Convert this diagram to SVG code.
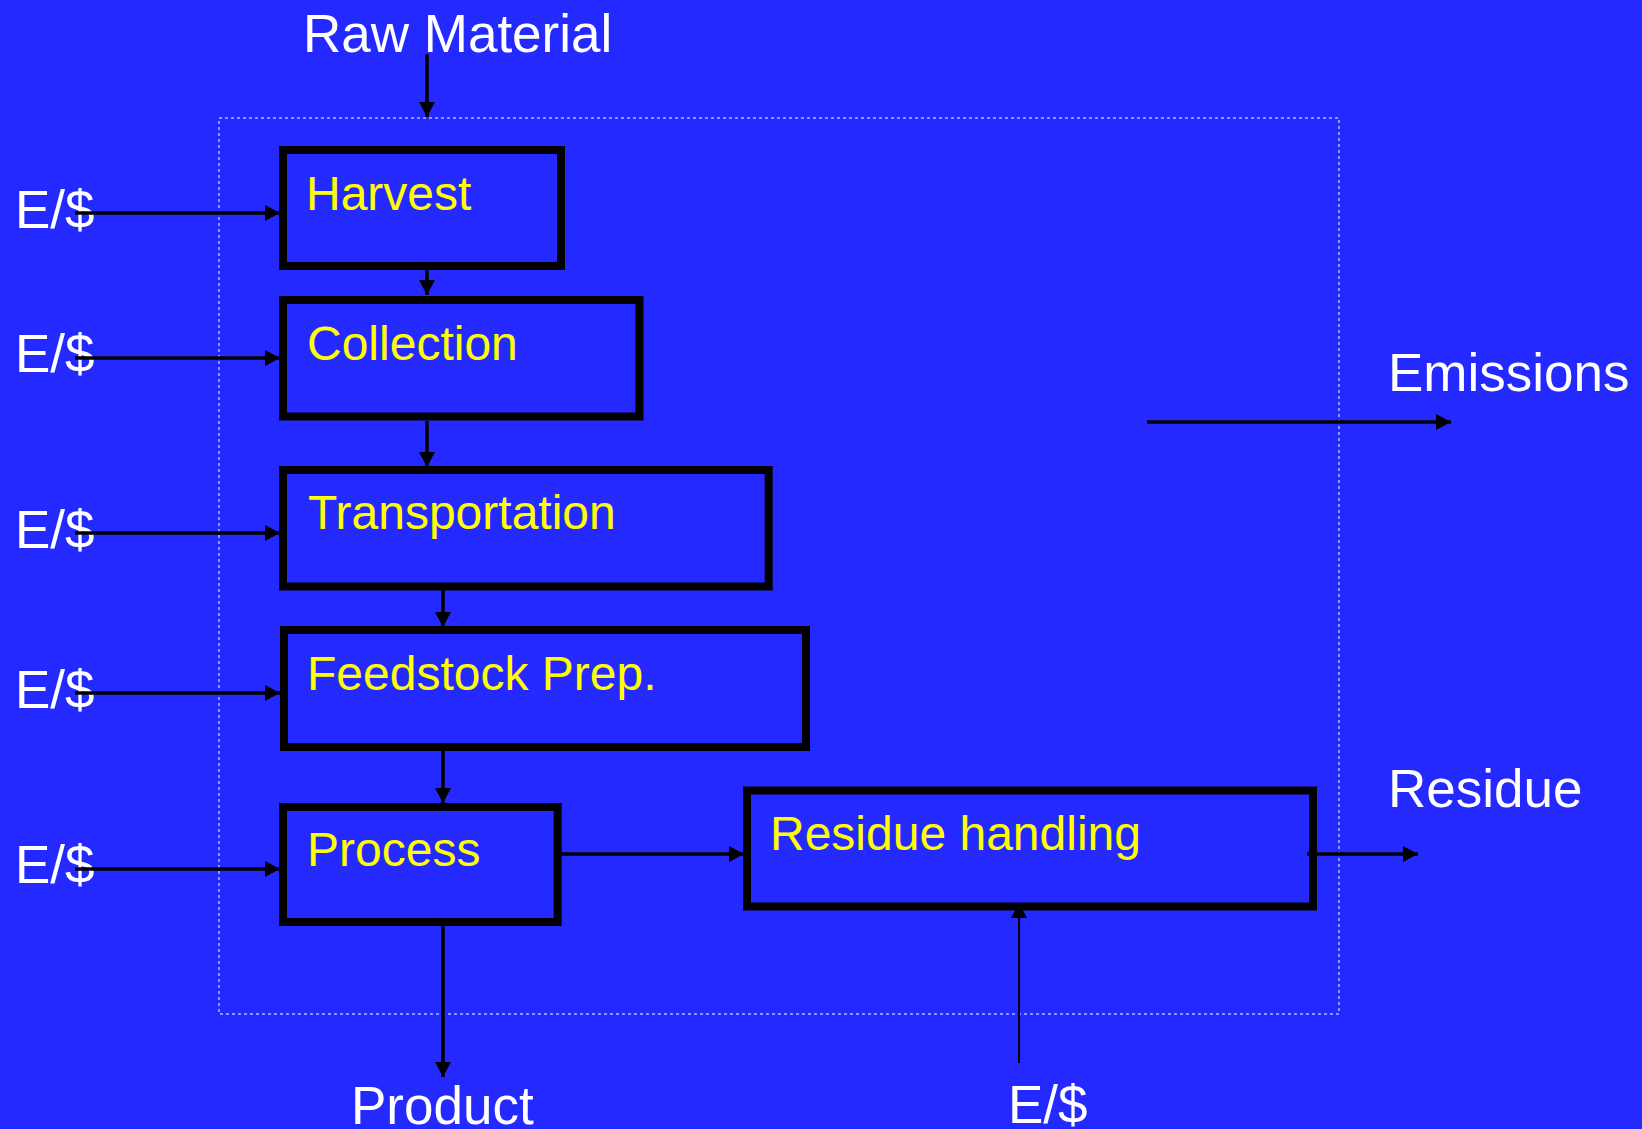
<svg xmlns="http://www.w3.org/2000/svg" width="1642" height="1129" viewBox="0 0 1642 1129">
<defs>
<style>
.box{fill:#2429FF;stroke:#000;stroke-width:8}
.lbl{fill:#FFFF00;font-family:"Liberation Sans",Arial,sans-serif;font-size:48px}
.wt{fill:#FFFFFF;font-family:"Liberation Sans",Arial,sans-serif;font-size:53px}
.conn line{stroke:#000;stroke-width:3.5;fill:none;marker-end:url(#ah)}
.conn line.thin{stroke-width:2}
</style>
<marker id="ah" markerUnits="userSpaceOnUse" markerWidth="16" markerHeight="16" refX="15" refY="8" orient="auto">
<path d="M0,0 L15,8 L0,16 z" fill="#000"/>
</marker>
</defs>
<rect x="0" y="0" width="1642" height="1129" fill="#2429FF"/>
<rect id="boundary" x="219" y="118" width="1120" height="896" fill="none" stroke="#B4B8FF" stroke-width="1.5" stroke-dasharray="3,3"/>

<g id="harvest"><rect class="box" x="283" y="150" width="278" height="116"/><text class="lbl" x="306" y="210">Harvest</text></g>
<g id="collection"><rect class="box" x="283" y="300" width="356.5" height="116.5"/><text class="lbl" x="307" y="360">Collection</text></g>
<g id="transportation"><rect class="box" x="283" y="470" width="485.7" height="116.5"/><text class="lbl" x="308" y="529">Transportation</text></g>
<g id="feedstock"><rect class="box" x="284" y="630" width="522" height="117"/><text class="lbl" x="307" y="690">Feedstock Prep.</text></g>
<g id="process"><rect class="box" x="283" y="807" width="274.7" height="115"/><text class="lbl" x="307" y="866">Process</text></g>
<g id="residue-handling"><rect class="box" x="747" y="790.5" width="566" height="116"/><text class="lbl" x="770" y="850">Residue handling</text></g>

<g id="labels">
<text class="wt" x="303" y="52">Raw Material</text>
<text class="wt" x="15" y="228">E/$</text>
<text class="wt" x="15" y="372">E/$</text>
<text class="wt" x="15" y="548">E/$</text>
<text class="wt" x="15" y="708">E/$</text>
<text class="wt" x="15" y="883">E/$</text>
<text class="wt" x="1388" y="391">Emissions</text>
<text class="wt" x="1388" y="807">Residue</text>
<text class="wt" x="351" y="1124">Product</text>
<text class="wt" x="1008" y="1123">E/$</text>
</g>

<g id="connectors" class="conn">
<line x1="427" y1="54" x2="427" y2="117"/>
<line x1="427" y1="262" x2="427" y2="295"/>
<line x1="427" y1="421" x2="427" y2="467"/>
<line x1="443" y1="583" x2="443" y2="627"/>
<line x1="443" y1="743" x2="443" y2="803"/>
<line x1="561" y1="854" x2="744" y2="854"/>
<line x1="443" y1="918" x2="443" y2="1077"/>
<line x1="1307" y1="854" x2="1418" y2="854"/>
<line x1="1147" y1="422" x2="1451" y2="422"/>
<line class="thin" x1="1019" y1="1063" x2="1019" y2="903"/>
<line x1="75" y1="213" x2="280" y2="213"/>
<line x1="75" y1="358" x2="280" y2="358"/>
<line x1="75" y1="533" x2="280" y2="533"/>
<line x1="75" y1="693" x2="280" y2="693"/>
<line x1="75" y1="869" x2="280" y2="869"/>
</g>
</svg>
